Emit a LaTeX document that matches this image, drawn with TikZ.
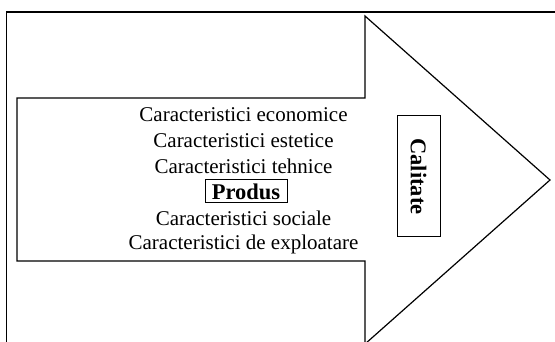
\documentclass[tikz,border=0pt]{standalone}
\usepackage{fontspec}
\setmainfont{Liberation Serif}
\begin{document}
\begin{tikzpicture}[x=1pt,y=-1pt,
  line/.style={draw=black,line width=1.2pt},
  lbl/.style={inner sep=0pt,font=\fontsize{21}{26}\selectfont,anchor=center},
  boldbox/.style={draw=black,line width=1pt,font=\fontsize{22.5}{26}\selectfont\bfseries}]
\useasboundingbox (0,0) rectangle (555,342);
% outer frame (extends beyond the picture)
\draw[line] (6.5,400) -- (6.5,12) -- (600,12);
% big arrow
\draw[line,line join=miter] (17,98) -- (365,98) -- (365,16) -- (550,180) -- (365,344) -- (365,261) -- (17,261) -- cycle;
% texts
\node[lbl] (e1) at (243.5,115) {Caracteristici economice};
\node[lbl] (e2) at (243.5,141) {Caracteristici estetice};
\node[lbl] (e3) at (243.5,166) {Caracteristici tehnice};
\node[boldbox,minimum width=82pt,minimum height=23pt,inner sep=0pt] (p) at (246,191.5) {Produs};
\node[lbl] (e4) at (243.5,218) {Caracteristici sociale};
\node[lbl] (e5) at (243.5,244) {Caracteristici de exploatare};
\node[boldbox,minimum width=43pt,minimum height=121pt,inner sep=0pt] (c) at (418.5,176.5) {};
\node[font=\fontsize{22.5}{26}\selectfont\bfseries,rotate=-90,inner sep=0pt] (ct) at (c.center) {Calitate};
\end{tikzpicture}
\end{document}
